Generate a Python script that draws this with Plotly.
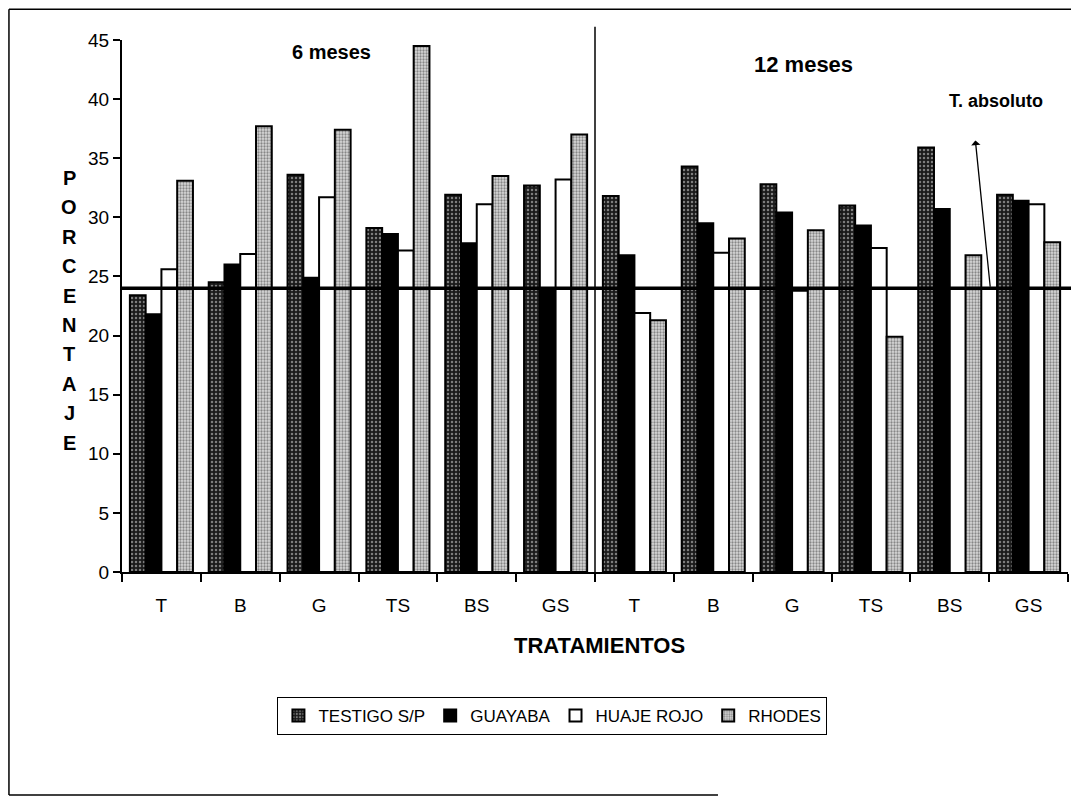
import plotly.graph_objects as go

categories = ["T", "B", "G", "TS", "BS", "GS", "T", "B", "G", "TS", "BS", "GS"]
testigo = [23.4, 24.5, 33.6, 29.1, 31.9, 32.7, 31.8, 34.3, 32.8, 31.0, 35.9, 31.9]
guayaba = [21.8, 26.0, 24.9, 28.6, 27.8, 24.0, 26.8, 29.5, 30.4, 29.3, 30.7, 31.4]
huaje = [25.6, 26.9, 31.7, 27.2, 31.1, 33.2, 21.9, 27.0, 23.8, 27.4, None, 31.1]
rhodes = [33.1, 37.7, 37.4, 44.5, 33.5, 37.0, 21.3, 28.2, 28.9, 19.9, 26.8, 27.9]
t_absoluto = 24.0
series_names = ["TESTIGO S/P", "GUAYABA", "HUAJE ROJO", "RHODES"]
y_title = "PORCENTAJE"

FONT = "Arial, Liberation Sans, sans-serif"
xpos = list(range(len(categories)))

styles = [
    dict(color="#1a1a1a", pattern=dict(shape=".", fgcolor="#e0e0e0", bgcolor="#1a1a1a", size=4, solidity=0.3)),
    dict(color="#000000"),
    dict(color="#ffffff"),
    dict(color="#bbbbbb", pattern=dict(shape=".", fgcolor="#333333", bgcolor="#d8d8d8", size=3, solidity=0.45)),
]

fig = go.Figure()
for name, vals, st in zip(series_names, [testigo, guayaba, huaje, rhodes], styles):
    marker = dict(color=st["color"], line=dict(color="black", width=2))
    if "pattern" in st:
        marker["pattern"] = st["pattern"]
    fig.add_trace(go.Bar(x=xpos, y=vals, name=name, marker=marker))

fig.update_layout(
    width=1071, height=798,
    margin=dict(l=114, r=11, t=32, b=234, autoexpand=False),
    paper_bgcolor="white", plot_bgcolor="white",
    barmode="group", bargap=0.2, bargroupgap=0.0,
    font=dict(family=FONT, size=17, color="black"),
    showlegend=True,
    legend=dict(
        orientation="h", x=0.455, y=-0.235, xanchor="center", yanchor="top",
        bordercolor="black", borderwidth=1, font=dict(size=17, family=FONT),
        itemwidth=30, tracegroupgap=0, traceorder="normal",
    ),
)

fig.update_xaxes(
    range=[-0.5, len(categories) - 0.5],
    tickvals=xpos, ticktext=categories, ticks="", showgrid=False,
    showline=True, linecolor="black", linewidth=2, zeroline=False,
    tickfont=dict(size=19, family=FONT), ticklabelstandoff=15,
    minor=dict(tickvals=[i - 0.5 for i in range(len(categories) + 1)], ticks="outside",
               ticklen=8, tickcolor="black", tickwidth=1.5, showgrid=False),
)
fig.update_yaxes(
    range=[0, 45], dtick=5, ticks="outside", ticklen=7, tickwidth=1.5, tickcolor="black",
    showgrid=False, showline=True, linecolor="black", linewidth=2, zeroline=False,
    tickfont=dict(size=19, family=FONT),
)

# T. absoluto reference line
fig.add_shape(type="line", xref="paper", yref="y", x0=0, x1=1.007, y0=t_absoluto, y1=t_absoluto,
              line=dict(color="black", width=3.5))
# divider between 6 and 12 months
fig.add_shape(type="line", xref="x", yref="paper", x0=5.5, x1=5.5, y0=0, y1=1.025,
              line=dict(color="black", width=1.5))

# outer frame (left, top, bottom)
fig.add_shape(type="line", xref="paper", yref="paper", x0=-0.1195, x1=-0.1195, y0=-0.419, y1=1.058,
              line=dict(color="black", width=1.5))
fig.add_shape(type="line", xref="paper", yref="paper", x0=-0.1195, x1=1.012, y0=1.058, y1=1.058,
              line=dict(color="black", width=1.5))
fig.add_shape(type="line", xref="paper", yref="paper", x0=-0.1195, x1=0.63, y0=-0.419, y1=-0.419,
              line=dict(color="black", width=1.5))

fig.add_annotation(x=2.16, y=44.0, xref="x", yref="y", text="<b>6 meses</b>", showarrow=False,
                   font=dict(size=20, family=FONT))
fig.add_annotation(x=8.14, y=42.9, xref="x", yref="y", text="<b>12 meses</b>", showarrow=False,
                   font=dict(size=22, family=FONT))
fig.add_annotation(x=10.59, y=39.8, xref="x", yref="y", text="<b>T. absoluto</b>", showarrow=False,
                   font=dict(size=18, family=FONT))
fig.add_annotation(x=10.325, y=36.5, ax=10.515, ay=t_absoluto, xref="x", yref="y", axref="x", ayref="y",
                   text="", showarrow=True, arrowhead=1, arrowsize=1.2, arrowwidth=1.3, arrowcolor="black")

fig.add_annotation(xref="paper", yref="paper", x=0.505, y=-0.138, xanchor="center", yanchor="middle",
                   text="<b>TRATAMIENTOS</b>", showarrow=False, font=dict(size=22, family=FONT))

# vertical stacked y-axis title, one letter per line
top_px, step_px, plot_h = 178, 29.4, 532
for i, ch in enumerate(y_title):
    fig.add_annotation(xref="paper", yref="paper", x=-0.056, y=1 - (top_px - 40 + i * step_px) / plot_h,
                       xanchor="center", yanchor="middle", text="<b>" + ch + "</b>",
                       showarrow=False, font=dict(size=20, family=FONT))

fig.write_html("out.html")
